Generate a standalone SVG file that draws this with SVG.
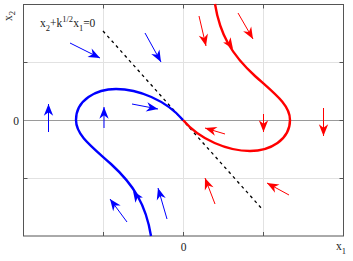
<svg xmlns="http://www.w3.org/2000/svg" width="353" height="261" viewBox="0 0 353 261">
<style>
.grid{stroke:#e2e2e2;stroke-width:1;fill:none}
.axis0{stroke:#9a9a9a;stroke-width:1;fill:none}
.frame{stroke:#555;stroke-width:1;fill:none}
.lbl{font-family:"Liberation Serif","Times New Roman",serif;font-size:11.5px;fill:#222}
.sa-b{stroke:#0000ff;stroke-width:1;fill:none;marker-end:url(#hb)}
.sa-r{stroke:#ff0000;stroke-width:1;fill:none;marker-end:url(#hr)}
.traj{stroke-width:2.4;fill:none}
</style>
<defs>
<marker id="hb" markerUnits="userSpaceOnUse" markerWidth="14" markerHeight="12" viewBox="-11 -5 12 10" refX="0" refY="0" orient="auto"><path d="M0,0 L-10,-4 L-7,0 L-10,4 Z" fill="#0000ff"/></marker>
<marker id="hr" markerUnits="userSpaceOnUse" markerWidth="14" markerHeight="12" viewBox="-11 -5 12 10" refX="0" refY="0" orient="auto"><path d="M0,0 L-10,-4 L-7,0 L-10,4 Z" fill="#ff0000"/></marker>
<path id="head" d="M0,0 L-11,-4.5 L-8,0 L-11,4.5 Z"/>
<path id="redtraj" d="M215,4 C220,35 232,55 255,76 C275,94 290,105 290,120 C290,140 270,151 250,151 C228,151 200,140 183,120"/>
</defs>
<g id="grid">
<line class="grid" x1="103.5" y1="4" x2="103.5" y2="236"/>
<line class="grid" x1="263.5" y1="4" x2="263.5" y2="236"/>
<line class="grid" x1="183.5" y1="4" x2="183.5" y2="236"/>
<line class="grid" x1="23" y1="62.5" x2="343" y2="62.5"/>
<line class="grid" x1="23" y1="178.5" x2="343" y2="178.5"/>
<line class="axis0" x1="23" y1="120.5" x2="343" y2="120.5"/>
</g>
<g id="frame">
<rect class="frame" x="23.5" y="4.5" width="320" height="231.5"/>
<path class="frame" d="M103.5,4.5v4M183.5,4.5v4M263.5,4.5v4M103.5,236v-4M183.5,236v-4M263.5,236v-4M23.5,62.5h4M23.5,178.5h4M343.5,62.5h-4M343.5,120.5h-4M343.5,178.5h-4"/>
</g>
<g id="labels">
<text class="lbl" transform="translate(12,21) rotate(-90)">x<tspan font-size="8.5" dy="3">2</tspan></text>
<text class="lbl" x="16" y="125" text-anchor="middle">0</text>
<text class="lbl" x="183.5" y="251" text-anchor="middle">0</text>
<text class="lbl" x="336" y="250">x<tspan font-size="8.5" dy="4">1</tspan></text>
<text class="lbl" x="40" y="27">x<tspan font-size="8.5" dy="4">2</tspan><tspan dy="-4">+k</tspan><tspan font-size="8.5" dy="-5">1/2</tspan><tspan dy="5">x</tspan><tspan font-size="8.5" dy="4">1</tspan><tspan dy="-4">=0</tspan></text>
</g>
<g id="separatrix">
<line x1="103" y1="31" x2="263" y2="210" stroke="#000" stroke-width="1.3" stroke-dasharray="3,3.5"/>
</g>
<g id="red-trajectory">
<use href="#redtraj" class="traj" stroke="#ff0000"/>
<use href="#head" transform="translate(233,49) rotate(56)" fill="#ff0000"/>
</g>
<g id="blue-trajectory" transform="rotate(180 183 120)">
<use href="#redtraj" class="traj" stroke="#0000ff"/>
<use href="#head" transform="translate(233,49) rotate(56)" fill="#0000ff"/>
</g>
<g id="blue-field">
<line class="sa-b" x1="70" y1="43" x2="100" y2="58"/>
<line class="sa-b" x1="145" y1="33" x2="161" y2="62"/>
<line class="sa-b" x1="48.5" y1="132" x2="48.5" y2="104"/>
<line class="sa-b" x1="104" y1="128" x2="104" y2="107"/>
<line class="sa-b" x1="132" y1="104" x2="158" y2="109"/>
<line class="sa-b" x1="167" y1="219" x2="158" y2="188"/>
<line class="sa-b" x1="127" y1="222" x2="110" y2="199"/>
</g>
<g id="red-field">
<line class="sa-r" x1="199" y1="16" x2="206" y2="46"/>
<line class="sa-r" x1="238" y1="13" x2="253" y2="39"/>
<line class="sa-r" x1="263.5" y1="114" x2="263.5" y2="132"/>
<line class="sa-r" x1="323.5" y1="108" x2="323.5" y2="136"/>
<line class="sa-r" x1="225" y1="134" x2="205" y2="128"/>
<line class="sa-r" x1="215" y1="204" x2="205" y2="178"/>
<line class="sa-r" x1="289" y1="195" x2="267" y2="183"/>
</g>
</svg>
